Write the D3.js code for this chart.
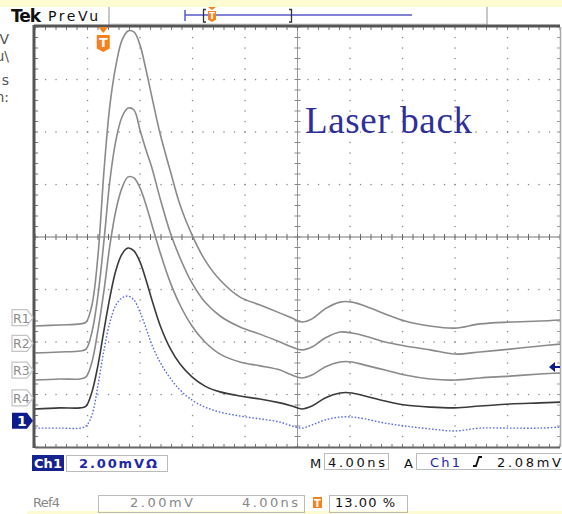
<!DOCTYPE html>
<html>
<head>
<meta charset="utf-8">
<script src="https://cdn.jsdelivr.net/npm/d3@7"></script>
<style>
  html, body { margin: 0; padding: 0; background: #ffffff; }
  svg { display: block; }
</style>
</head>
<body>
<svg id="scope" width="562" height="514" font-family="DejaVu Sans, sans-serif"></svg>
<script>
// Acquisition time base (ns from the left graticule edge)
const timeNs = [0, 1.9, 3.43, 3.89, 4.34, 4.8, 5.26, 5.71, 6.17, 6.63, 7.09, 7.54, 8.0, 8.46, 8.91,
  9.52, 10.29, 11.05, 11.96, 12.95, 14.1, 15.62, 17.14, 18.67, 19.58, 20.34, 21.1, 22.1, 23.24,
  24.15, 25.14, 26.67, 28.19, 30.1, 32.0, 33.9, 36.19, 38.48, 40.0];

// Reference waveforms (mV, screen position including offset)
const ref1 = [-3.39, -3.35, -3.31, -3.24, -2.59, -0.69, 2.55, 5.03, 6.55, 7.50, 7.85, 7.81, 7.31, 6.36,
  5.33, 3.96, 2.55, 1.22, 0.08, -0.88, -1.64, -2.29, -2.59, -2.90, -3.09, -3.24, -3.12, -2.74, -2.48,
  -2.48, -2.63, -2.93, -3.20, -3.39, -3.47, -3.31, -3.24, -3.20, -3.16];
const ref2 = [-4.42, -4.38, -4.34, -4.27, -3.62, -2.21, -0.11, 2.17, 3.70, 4.57, 4.91, 4.84, 4.08, 3.31,
  2.63, 1.49, 0.19, -0.80, -1.75, -2.48, -3.01, -3.43, -3.70, -4.00, -4.19, -4.30, -4.19, -3.85, -3.62,
  -3.66, -3.77, -4.00, -4.15, -4.30, -4.46, -4.38, -4.27, -4.15, -4.08];
const ref3 = [-5.45, -5.41, -5.41, -5.33, -4.76, -3.54, -2.02, -0.30, 1.03, 1.87, 2.29, 2.25, 1.87, 1.22,
  0.46, -0.57, -1.71, -2.59, -3.39, -4.00, -4.46, -4.76, -4.91, -5.07, -5.26, -5.37, -5.26, -4.95, -4.76,
  -4.76, -4.88, -5.07, -5.26, -5.41, -5.45, -5.37, -5.30, -5.22, -5.18];
const ref4 = [-6.55, -6.51, -6.51, -6.44, -5.90, -4.88, -3.54, -2.29, -1.26, -0.65, -0.42, -0.53, -0.95,
  -1.64, -2.40, -3.35, -4.23, -4.84, -5.33, -5.68, -5.90, -6.06, -6.17, -6.32, -6.44, -6.55, -6.44, -6.13,
  -5.94, -5.94, -6.06, -6.25, -6.40, -6.48, -6.51, -6.44, -6.36, -6.32, -6.29];
// Live channel 1
const ch1 = [-7.28, -7.28, -7.28, -7.20, -6.78, -5.64, -4.30, -3.24, -2.59, -2.32, -2.25, -2.40, -2.86,
  -3.47, -4.11, -4.76, -5.37, -5.83, -6.21, -6.48, -6.67, -6.82, -6.93, -7.05, -7.20, -7.28, -7.16, -6.97,
  -6.86, -6.86, -6.93, -7.09, -7.20, -7.31, -7.39, -7.28, -7.28, -7.28, -7.24];

const refNames = ["R1", "R2", "R3", "R4"];
const refMarkerMv = [-3.07, -4.05, -5.07, -6.13];
const ch1MarkerMv = [-7.0];
const triggerLevelMv = [-4.95];
const triggerTimeNs = [5.2];

const statusTexts = { ch: "Ch1", scale: "2.00mV\u03A9", time: "4.00ns", trig: "2.08mV" };
const refStatus = { name: "Ref4", scale: "2.00mV", time: "4.00ns", pos: "13.00 %" };
const annotation = "Laser back";
const sideText = [["V", 44], ["u\\", 61], ["s", 85], ["n:", 102]];

const svg = d3.select("#scope");
const x = d3.scaleLinear().domain([0, 40]).range([35, 560]);
const y = d3.scaleLinear().domain([-8, 8]).range([447, 27]);

// Pale banners top and bottom
svg.append("rect").attr("x", 0).attr("y", 0).attr("width", 562).attr("height", 7).attr("fill", "#fdfbd2");
svg.append("rect").attr("x", 27).attr("y", 511).attr("width", 535).attr("height", 3).attr("fill", "#fdfbd2");

// Header
svg.append("text").attr("x", 11).attr("y", 22).attr("font-size", 17).attr("font-weight", "bold")
  .attr("letter-spacing", -1).attr("fill", "#111").text("Tek");
svg.append("text").attr("x", 48).attr("y", 21).attr("font-size", 14).attr("fill", "#111")
  .attr("textLength", 50).text("PreVu");
svg.append("line").attr("x1", 109).attr("x2", 109).attr("y1", 7).attr("y2", 25).attr("stroke", "#c8c8c8").attr("stroke-width", 2);
svg.append("line").attr("x1", 487).attr("x2", 487).attr("y1", 7).attr("y2", 25).attr("stroke", "#c8c8c8").attr("stroke-width", 2);
svg.append("line").attr("x1", 109).attr("x2", 487).attr("y1", 24).attr("y2", 24).attr("stroke", "#d0d0d0").attr("stroke-width", 1);

// Record view bar
const rv = svg.append("g");
rv.append("line").attr("x1", 185).attr("x2", 412).attr("y1", 15).attr("y2", 15).attr("stroke", "#5558c8").attr("stroke-width", 1.5);
rv.append("line").attr("x1", 185).attr("x2", 185).attr("y1", 10).attr("y2", 21).attr("stroke", "#5558c8").attr("stroke-width", 1.5);
rv.append("path").attr("d", "M206,9.5 H203.5 V22 H206").attr("fill", "none").attr("stroke", "#333").attr("stroke-width", 1.3);
rv.append("path").attr("d", "M289,9.5 H291.5 V22 H289").attr("fill", "none").attr("stroke", "#333").attr("stroke-width", 1.3);
function trigIcon(g, cx, top, w, h) {
  g.append("path").attr("d", `M${cx - w / 2},${top} L${cx + w / 2},${top} L${cx + w / 2},${top + h * 0.8} L${cx},${top + h} L${cx - w / 2},${top + h * 0.8} Z`)
    .attr("fill", "#f58220");
  g.append("text").attr("x", cx).attr("y", top + h * 0.72).attr("text-anchor", "middle")
    .attr("font-size", h * 0.75).attr("font-weight", "bold").attr("fill", "#fff").text("T");
}
rv.append("path").attr("d", "M208,7 L216,7 L212,10 Z").attr("fill", "#f58220");
trigIcon(rv, 212, 11, 8, 11);

// Left side panel text (clipped by the window edge)
svg.append("g").selectAll("text").data(sideText).join("text")
  .attr("x", 9).attr("y", d => d[1]).attr("text-anchor", "end").attr("font-size", 14).attr("fill", "#555")
  .text(d => d[0]);

// Graticule
const grid = svg.append("g");
const minorT = d3.range(0, 40.01, 0.8);
const minorV = d3.range(-8, 8.01, 0.4);
// dotted division lines
d3.range(4, 40, 4).filter(t => t !== 20).forEach(t => {
  grid.append("g").selectAll("rect").data(minorV).join("rect")
    .attr("x", x(t) - 0.6).attr("y", v => y(v) - 0.6).attr("width", 1.3).attr("height", 1.3).attr("fill", "#888");
});
d3.range(-6, 8, 2).filter(v => v !== 0).forEach(v => {
  grid.append("g").selectAll("rect").data(minorT).join("rect")
    .attr("x", t => x(t) - 0.6).attr("y", y(v) - 0.6).attr("width", 1.3).attr("height", 1.3).attr("fill", "#888");
});
// centre cross with minor ticks
grid.append("line").attr("x1", x(0)).attr("x2", x(40)).attr("y1", y(0)).attr("y2", y(0)).attr("stroke", "#777").attr("stroke-width", 1);
grid.append("line").attr("x1", x(20)).attr("x2", x(20)).attr("y1", y(8)).attr("y2", y(-8)).attr("stroke", "#999").attr("stroke-width", 1);
grid.append("g").selectAll("line").data(minorT).join("line")
  .attr("x1", t => x(t)).attr("x2", t => x(t)).attr("y1", y(0) - 3).attr("y2", y(0) + 3).attr("stroke", "#666");
grid.append("g").selectAll("line").data(minorV).join("line")
  .attr("x1", x(20) - 3).attr("x2", x(20) + 3).attr("y1", v => y(v)).attr("y2", v => y(v)).attr("stroke", "#888");
// edge ticks
grid.append("g").selectAll("line").data(minorT).join("line")
  .attr("x1", t => x(t)).attr("x2", t => x(t)).attr("y1", y(8)).attr("y2", y(8) + 3).attr("stroke", "#777");
grid.append("g").selectAll("line").data(minorT).join("line")
  .attr("x1", t => x(t)).attr("x2", t => x(t)).attr("y1", y(-8)).attr("y2", y(-8) - 3).attr("stroke", "#777");
grid.append("g").selectAll("line").data(minorV).join("line")
  .attr("x1", x(0)).attr("x2", x(0) + 3).attr("y1", v => y(v)).attr("y2", v => y(v)).attr("stroke", "#777");
grid.append("g").selectAll("line").data(minorV).join("line")
  .attr("x1", x(40)).attr("x2", x(40) - 3).attr("y1", v => y(v)).attr("y2", v => y(v)).attr("stroke", "#999");
// frame
grid.append("line").attr("x1", x(0) - 1).attr("x2", x(40)).attr("y1", y(8) - 1).attr("y2", y(8) - 1).attr("stroke", "#555").attr("stroke-width", 3);
grid.append("line").attr("x1", x(0) - 1).attr("x2", x(0) - 1).attr("y1", y(8) - 2).attr("y2", y(-8) + 1).attr("stroke", "#555").attr("stroke-width", 3);
grid.append("line").attr("x1", x(0)).attr("x2", x(40)).attr("y1", y(-8) + 0.5).attr("y2", y(-8) + 0.5).attr("stroke", "#666").attr("stroke-width", 2);
grid.append("line").attr("x1", x(40) + 0.5).attr("x2", x(40) + 0.5).attr("y1", y(8)).attr("y2", y(-8)).attr("stroke", "#aaa").attr("stroke-width", 1.5);

// Waveforms
const line = d3.line().x((d, i) => x(timeNs[i])).y(d => y(d)).curve(d3.curveCatmullRom.alpha(0.5));
const traces = svg.append("g");
[[ref1, "#8a8a8a"], [ref2, "#8a8a8a"], [ref3, "#8a8a8a"], [ref4, "#3a3a3a"]].forEach(([vals, col]) => {
  traces.append("path").attr("d", line(vals)).attr("fill", "none").attr("stroke", col).attr("stroke-width", 1.6);
});
traces.append("path").attr("d", line(ch1)).attr("fill", "none").attr("stroke", "#5a6be6")
  .attr("stroke-width", 1.4).attr("stroke-dasharray", "1.6,1.8");

// Trigger position marker in graticule
const tx = x(triggerTimeNs[0]);
svg.append("path").attr("d", `M${tx - 5},${y(8)} L${tx + 5},${y(8)} L${tx},${y(8) + 6} Z`).attr("fill", "#f58220");
trigIcon(svg, tx, 35, 13, 17);

// Annotation
svg.append("text").attr("x", 305).attr("y", 133).style("font-family", "'Liberation Serif', 'DejaVu Serif', serif")
  .attr("font-size", 37).attr("fill", "#2f2f9a").attr("textLength", 167).text(annotation);

// Reference markers on the left
const refG = svg.append("g").selectAll("g").data(refNames).join("g")
  .attr("transform", (d, i) => `translate(0,${y(refMarkerMv[i])})`);
refG.append("path").attr("d", "M12,-8 H27 L33,0 L27,8 H12 Z").attr("fill", "#fff").attr("stroke", "#c4c4c4").attr("stroke-width", 1.2);
refG.append("text").attr("x", 13).attr("y", 5).attr("font-size", 12.5).attr("fill", "#8c8c8c").text(d => d);

// Channel 1 ground marker
const c1 = svg.append("g").attr("transform", `translate(0,${y(ch1MarkerMv[0])})`);
c1.append("path").attr("d", "M12,-8 H27 L33,0 L27,8 H12 Z").attr("fill", "#0c1c8c");
c1.append("text").attr("x", 17).attr("y", 5.5).attr("font-size", 14).attr("font-weight", "bold").attr("fill", "#fff").text("1");

// Trigger level arrow on the right
const ty = y(triggerLevelMv[0]);
svg.append("path").attr("d", `M549,${ty} L555,${ty - 5} L555,${ty - 1} L560,${ty - 1} L560,${ty + 1} L555,${ty + 1} L555,${ty + 5} Z`).attr("fill", "#0c1c8c");

// Status line
const st = svg.append("g");
st.append("rect").attr("x", 32).attr("y", 455).attr("width", 32).attr("height", 16).attr("fill", "#16238f");
st.append("text").attr("x", 34).attr("y", 468).attr("font-size", 13).attr("font-weight", "bold").attr("fill", "#fff")
  .attr("textLength", 28).text(statusTexts.ch);
st.append("rect").attr("x", 66.5).attr("y", 455.5).attr("width", 101).attr("height", 16).attr("fill", "none").attr("stroke", "#bbb");
st.append("text").attr("x", 79).attr("y", 468).attr("font-size", 13).attr("font-weight", "bold").attr("fill", "#1e28a8")
  .attr("textLength", 78).text(statusTexts.scale);
st.append("text").attr("x", 310).attr("y", 468).attr("font-size", 13).attr("fill", "#111").text("M");
st.append("rect").attr("x", 324.5).attr("y", 453.5).attr("width", 64).attr("height", 16).attr("fill", "none").attr("stroke", "#bbb");
st.append("text").attr("x", 328).attr("y", 467).attr("font-size", 13).attr("fill", "#111")
  .attr("textLength", 57).text(statusTexts.time);
st.append("text").attr("x", 404).attr("y", 468).attr("font-size", 13).attr("fill", "#111").text("A");
st.append("path").attr("d", "M562,453.5 H416.5 V469.5 H562").attr("fill", "none").attr("stroke", "#bbb");
st.append("text").attr("x", 430).attr("y", 467).attr("font-size", 13).attr("fill", "#1e28a8")
  .attr("textLength", 30).text(statusTexts.ch);
st.append("path").attr("d", "M473,466 H476 L479,457 H482").attr("fill", "none").attr("stroke", "#111").attr("stroke-width", 1.8);
st.append("text").attr("x", 497).attr("y", 467).attr("font-size", 13).attr("fill", "#111")
  .attr("textLength", 64).text(statusTexts.trig);

// Reference status line
const rs = svg.append("g");
rs.append("text").attr("x", 33).attr("y", 507).attr("font-size", 13).attr("fill", "#888")
  .attr("textLength", 27).text(refStatus.name);
rs.append("rect").attr("x", 98.5).attr("y", 495.5).attr("width", 206).attr("height", 17).attr("fill", "none").attr("stroke", "#bbb");
rs.append("text").attr("x", 130).attr("y", 507).attr("font-size", 13).attr("fill", "#888")
  .attr("textLength", 63).text(refStatus.scale);
rs.append("text").attr("x", 242).attr("y", 507).attr("font-size", 13).attr("fill", "#888")
  .attr("textLength", 56).text(refStatus.time);
rs.append("rect").attr("x", 313).attr("y", 497).attr("width", 9).attr("height", 11).attr("fill", "#f58220");
rs.append("text").attr("x", 317.5).attr("y", 506.5).attr("text-anchor", "middle").attr("font-size", 10)
  .attr("font-weight", "bold").attr("fill", "#fff").text("T");
rs.append("rect").attr("x", 329.5).attr("y", 495.5).attr("width", 78).attr("height", 17).attr("fill", "none").attr("stroke", "#bbb");
rs.append("text").attr("x", 335).attr("y", 507).attr("font-size", 13).attr("fill", "#111")
  .attr("textLength", 60).text(refStatus.pos);
</script>
</body>
</html>
